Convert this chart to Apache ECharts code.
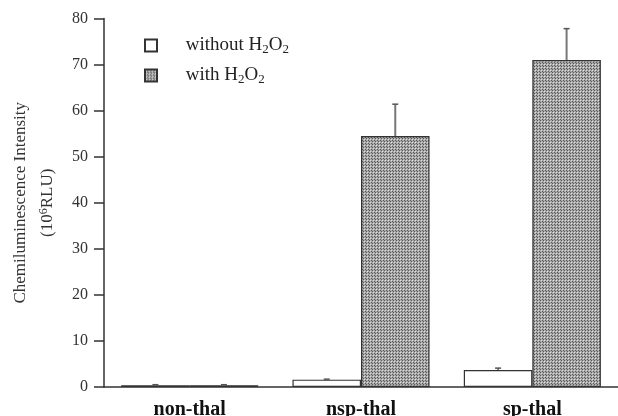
<!DOCTYPE html>
<html><head><meta charset="utf-8">
<script src="https://cdn.jsdelivr.net/npm/echarts@6/dist/echarts.min.js"></script>
<style>html,body{margin:0;padding:0;background:#fff}#c{width:618px;height:416px}</style>
</head><body><div id="c"></div>
<script>
var categories = ['non-thal', 'nsp-thal', 'sp-thal'];
var withoutH2O2 = [0.4, 1.6, 3.7];
var withoutErr = [0.1, 0.1, 0.4];
var withH2O2 = [0.4, 54.5, 71.0];
var withErr = [0.1, 6.9, 6.8];
var yTicks = [0, 10, 20, 30, 40, 50, 60, 70, 80];

var pc = document.createElement('canvas');
pc.width = 3; pc.height = 3;
var g = pc.getContext('2d');
g.fillStyle = '#a8a8a8'; g.fillRect(0, 0, 3, 3);
g.fillStyle = '#5a5a5a'; g.fillRect(0, 0, 1, 1); g.fillRect(2, 2, 1, 1);
g.fillStyle = '#e0e0e0'; g.fillRect(1, 1, 1, 1);
var pattern = {image: pc, repeat: 'repeat'};

var serif = 'Liberation Serif';
function errData(vals, errs) {
  return vals.map(function (v, i) { return [i, v, v + errs[i]]; });
}
function errSeries(name, vals, errs, side) {
  return {
    type: 'custom', name: name + '_err', silent: true, z: 5,
    data: errData(vals, errs),
    renderItem: function (params, api) {
      var c = api.coord([api.value(0), api.value(1)]);
      var t = api.coord([api.value(0), api.value(2)]);
      var band = api.size([1, 0])[0];
      var x = c[0] + side * band * 0.2;
      return {type: 'group', children: [
        {type: 'line', shape: {x1: x, y1: c[1], x2: x, y2: t[1]}, style: {stroke: '#777', lineWidth: 2}},
        {type: 'line', shape: {x1: x - 3, y1: t[1], x2: x + 3, y2: t[1]}, style: {stroke: '#555', lineWidth: 1.5}}
      ]};
    }
  };
}
var legendRich = {
  a: {fontFamily: serif, fontSize: 19, color: '#222'},
  s: {fontFamily: serif, fontSize: 13, color: '#222', padding: [8, 0, 0, 0]}
};
var chart = echarts.init(document.getElementById('c'));
chart.setOption({
  animation: false,
  grid: {left: 104, right: 0, top: 18.5, bottom: 29, outerBoundsMode: 'none', containLabel: false},
  legend: {
    orient: 'vertical', left: 139, top: 31, itemWidth: 12, itemHeight: 12, itemGap: 10,
    icon: 'rect',
    data: ['without', 'with'],
    formatter: function (n) {
      return n === 'without' ? '{a|     without H}{s|2}{a|O}{s|2}' : '{a|     with H}{s|2}{a|O}{s|2}';
    },
    textStyle: {rich: legendRich}
  },
  xAxis: {
    type: 'category', data: categories,
    axisTick: {show: false},
    axisLine: {lineStyle: {color: '#333', width: 1.5}},
    axisLabel: {fontFamily: serif, fontSize: 20, fontWeight: 'bold', color: '#111', margin: 13}
  },
  yAxis: {
    type: 'value', min: 0, max: 80, interval: 10,
    splitLine: {show: false},
    axisLine: {show: true, lineStyle: {color: '#333', width: 1.5}},
    axisTick: {show: true, length: 10, lineStyle: {color: '#333', width: 1.5}},
    axisLabel: {fontFamily: serif, fontSize: 16, color: '#333', margin: 16,
      formatter: function (v) { return yTicks.indexOf(v) >= 0 ? String(v) : ''; }},
    name: '{a|Chemiluminescence Intensity}\n{a|(10}{p|6}{a|RLU)}',
    nameLocation: 'middle', nameRotate: 90, nameGap: 43,
    nameTextStyle: {rich: {
      a: {fontFamily: serif, fontSize: 17, color: '#333', lineHeight: 27},
      p: {fontFamily: serif, fontSize: 12, color: '#333', padding: [0, 0, 8, 0], lineHeight: 27}
    }}
  },
  series: [
    {name: 'without', type: 'bar', data: withoutH2O2, barWidth: '40%', barGap: '0%',
     itemStyle: {color: '#fff', borderColor: '#333', borderWidth: 1.2}},
    {name: 'with', type: 'bar', data: withH2O2, barWidth: '40%', barGap: '0%',
     itemStyle: {color: pattern, borderColor: '#333', borderWidth: 1.2}},
    errSeries('without', withoutH2O2, withoutErr, -1),
    errSeries('with', withH2O2, withErr, 1)
  ]
});
</script></body></html>
